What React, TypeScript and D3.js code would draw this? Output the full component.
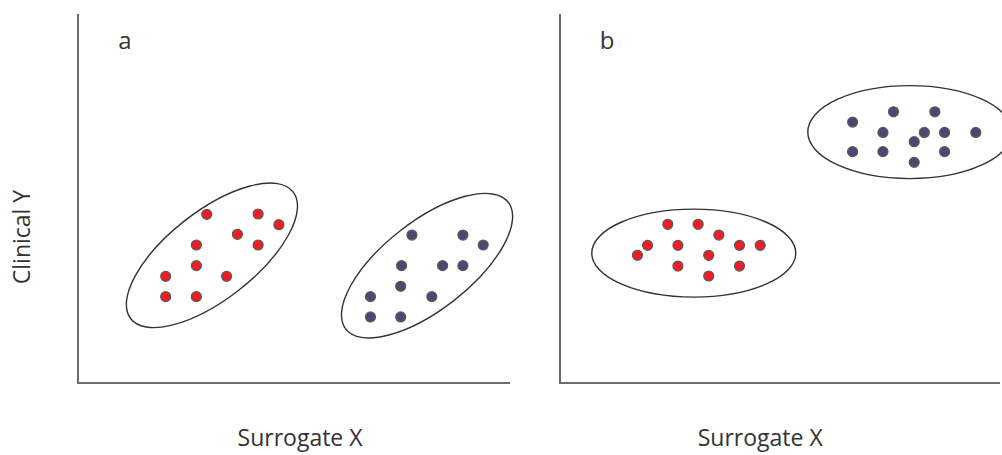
import React from "react";
import * as d3 from "d3";

type Pt = [number, number];

// Panel a – red cluster (x, y in data units 0..10)
const redA: Pt[] = [
  [2.98, 4.57], [4.17, 4.58], [4.65, 4.29], [3.69, 4.03], [2.74, 3.74], [4.17, 3.74],
  [2.74, 3.18], [2.03, 2.89], [3.44, 2.89], [2.03, 2.34], [2.74, 2.34],
];
// Panel a – blue cluster
const blueA: Pt[] = [
  [7.73, 4.01], [8.91, 4.01], [9.38, 3.74], [7.49, 3.18], [8.44, 3.18], [8.91, 3.18],
  [7.47, 2.62], [6.77, 2.34], [8.19, 2.34], [6.77, 1.79], [7.47, 1.79],
];
// Panel b – red cluster
const redB: Pt[] = [
  [2.45, 4.3], [3.14, 4.3], [3.61, 4.01], [1.99, 3.73], [2.68, 3.73], [4.08, 3.73],
  [4.55, 3.73], [1.76, 3.46], [3.38, 3.46], [2.68, 3.17], [4.08, 3.17], [3.38, 2.9],
];
// Panel b – blue cluster
const blueB: Pt[] = [
  [7.58, 7.35], [8.52, 7.35], [6.65, 7.07], [7.34, 6.79], [8.28, 6.79], [8.74, 6.79],
  [9.45, 6.79], [8.05, 6.54], [6.65, 6.27], [7.34, 6.27], [8.74, 6.27], [8.05, 5.98],
];

// Cluster envelopes: centre (data units)
const ellipseCentersA: Pt[] = [[3.1, 3.46], [8.08, 3.18]];
const ellipseCentersB: Pt[] = [[3.04, 3.52], [7.95, 6.8]];

const panelLabels = ["a", "b"];
const xTitle = "Surrogate X";
const xTitlePos = [5.14, 4.55];
const yTitle = "Clinical Y";

const RED = "#ee1d24";
const BLUE = "#4d4873";
const FONT = "'Open Sans', sans-serif";

export default function App() {
  const W = 1002;
  const H = 455;
  const yScale = d3.scaleLinear().domain([0, 10]).range([383, 14]);
  const xA = d3.scaleLinear().domain([0, 10]).range([78, 510]);
  const xB = d3.scaleLinear().domain([0, 10]).range([560, 1000]);

  const dots = (pts: Pt[], xs: d3.ScaleLinear<number, number>, fill: string, key: string) =>
    pts.map((p, i) => (
      <circle
        key={key + i}
        cx={xs(p[0])}
        cy={yScale(p[1])}
        r={5}
        fill={fill}
        stroke="#5a5a5a"
        strokeWidth={1.2}
      />
    ));

  const panels = [
    { xs: xA, label: panelLabels[0], red: redA, blue: blueA, ell: ellipseCentersA, rot: true, tx: xTitlePos[0] },
    { xs: xB, label: panelLabels[1], red: redB, blue: blueB, ell: ellipseCentersB, rot: false, tx: xTitlePos[1] },
  ];

  return (
    <svg
      width={W}
      height={H}
      style={{ position: "absolute", left: 0, top: 0, background: "#fff" }}
    >
      {panels.map((pn, pi) => {
        const [x0, x1] = pn.xs.range();
        const [yb, yt] = yScale.range();
        return (
          <g key={pi}>
            {pn.ell.map((c, i) => {
              const cx = pn.xs(c[0]);
              const cy = yScale(c[1]);
              return pn.rot ? (
                <ellipse
                  key={i}
                  cx={0}
                  cy={0}
                  rx={103}
                  ry={44}
                  transform={`translate(${cx},${cy}) rotate(-38)`}
                  fill="none"
                  stroke="#333"
                  strokeWidth={1.4}
                />
              ) : (
                <ellipse
                  key={i}
                  cx={cx}
                  cy={cy}
                  rx={i === 0 ? 102 : 102}
                  ry={i === 0 ? 44 : 46.5}
                  fill="none"
                  stroke="#333"
                  strokeWidth={1.4}
                />
              );
            })}
            {dots(pn.red, pn.xs, RED, "r" + pi)}
            {dots(pn.blue, pn.xs, BLUE, "b" + pi)}
            <line x1={x0} x2={x0} y1={yt} y2={yb + 1} stroke="#3a3a3a" strokeWidth={1.5} />
            <line x1={x0} x2={x1} y1={yb} y2={yb} stroke="#6a6a6a" strokeWidth={2} />
            <text x={x0 + 47} y={49} fontFamily={FONT} fontSize={24} fill="#333" textAnchor="middle">
              {pn.label}
            </text>
            <text x={pn.xs(pn.tx)} y={446} fontFamily={FONT} fontSize={23} fill="#333" textAnchor="middle">
              {xTitle}
            </text>
          </g>
        );
      })}
      <text
        transform="translate(30,237) rotate(-90)"
        fontFamily={FONT}
        fontSize={23}
        fill="#333"
        textAnchor="middle"
      >
        {yTitle}
      </text>
    </svg>
  );
}
